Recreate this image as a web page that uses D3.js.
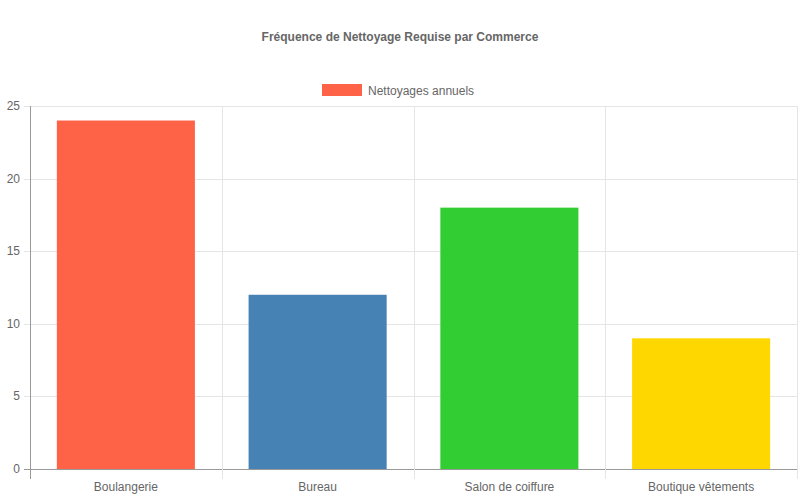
<!DOCTYPE html>
<html>
<head>
<meta charset="utf-8">
<script src="https://cdn.jsdelivr.net/npm/d3@7"></script>
<style>
body { margin: 0; background: #fff; }
text { font-family: "Liberation Sans", Arial, Helvetica, sans-serif; fill: #666; }
</style>
</head>
<body>
<svg width="800" height="500"></svg>
<script>
var categories = ['Boulangerie', 'Bureau', 'Salon de coiffure', 'Boutique vêtements'];
var values = [24, 12, 18, 9];
var colors = ['#FF6347', '#4682B4', '#32CD32', '#FFD700'];
var yTicks = [0, 5, 10, 15, 20, 25];
var title = 'Fréquence de Nettoyage Requise par Commerce';
var seriesName = 'Nettoyages annuels';

var svg = d3.select('svg');
var plotLeft = 30, plotRight = 797, plotTop = 106, plotBottom = 469;

var x = d3.scaleBand().domain(categories).range([plotLeft, plotRight]).paddingInner(0).paddingOuter(0);
var y = d3.scaleLinear().domain([0, 25]).range([plotBottom, plotTop]);

// title
svg.append('text')
    .attr('x', 400).attr('y', 41)
    .attr('text-anchor', 'middle')
    .style('font-size', '12px')
    .style('font-weight', 'bold')
    .text(title);

// legend
svg.append('rect')
    .attr('x', 322).attr('y', 84).attr('width', 40).attr('height', 12)
    .style('fill', colors[0]);
svg.append('text')
    .attr('x', 368).attr('y', 94.5)
    .style('font-size', '12px')
    .text(seriesName);

// horizontal grid
svg.append('g').selectAll('line')
    .data(yTicks)
    .enter()
    .append('line')
    .attr('x1', plotLeft - 6).attr('x2', plotRight)
    .attr('y1', function(d) {return Math.round(y(d)) + 0.5;})
    .attr('y2', function(d) {return Math.round(y(d)) + 0.5;})
    .style('stroke', function(d) {return d == 0 ? '#999' : '#e5e5e5';})
    .style('shape-rendering', 'crispEdges');

// vertical grid
var bounds = categories.map(function(c) {return x(c);}).concat([plotRight]);
svg.append('g').selectAll('line')
    .data(bounds)
    .enter()
    .append('line')
    .attr('x1', function(d) {return Math.round(d) + 0.5;})
    .attr('x2', function(d) {return Math.round(d) + 0.5;})
    .attr('y1', plotTop).attr('y2', plotBottom + 10)
    .style('stroke', function(d, i) {return i == 0 ? '#999' : '#e5e5e5';})
    .style('shape-rendering', 'crispEdges');

// y tick labels
svg.append('g').selectAll('text')
    .data(yTicks)
    .enter()
    .append('text')
    .attr('x', plotLeft - 10)
    .attr('y', function(d) {return y(d) + 4;})
    .attr('text-anchor', 'end')
    .style('font-size', '12px')
    .text(function(d) {return d;});

// bars
var bw = x.bandwidth() * 0.72;
svg.append('g').selectAll('rect')
    .data(values)
    .enter()
    .append('rect')
    .attr('x', function(d, i) {return x(categories[i]) + (x.bandwidth() - bw) / 2;})
    .attr('y', function(d) {return y(d);})
    .attr('width', bw)
    .attr('height', function(d) {return y(0) - y(d);})
    .style('fill', function(d, i) {return colors[i];});

// x labels
svg.append('g').selectAll('text')
    .data(categories)
    .enter()
    .append('text')
    .attr('x', function(d) {return x(d) + x.bandwidth() / 2;})
    .attr('y', 491)
    .attr('text-anchor', 'middle')
    .style('font-size', '12px')
    .text(function(d) {return d;});
</script>
</body>
</html>
